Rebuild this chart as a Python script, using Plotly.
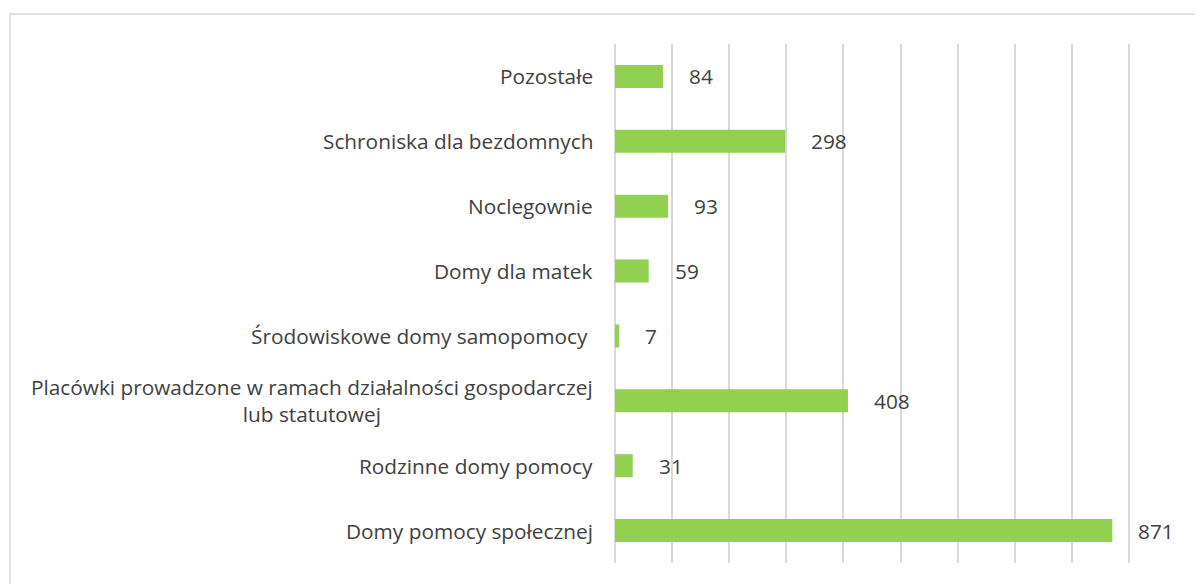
import plotly.graph_objects as go

categories = [
    "Domy pomocy społecznej",
    "Rodzinne domy pomocy",
    "Placówki prowadzone w ramach działalności gospodarczej<br>lub statutowej",
    "Środowiskowe domy samopomocy ",
    "Domy dla matek",
    "Noclegownie",
    "Schroniska dla bezdomnych",
    "Pozostałe",
]
values = [871, 31, 408, 7, 59, 93, 298, 84]
x_ticks = list(range(0, 1001, 100))

FONT = "Open Sans"
TXT = "#404040"
FS = 20.8

fig = go.Figure(go.Bar(
    x=values, y=categories, orientation="h",
    marker=dict(color="#92D050", line=dict(width=0)),
    hoverinfo="skip",
))

annotations = []
for c, v in zip(categories, values):
    annotations.append(dict(
        x=v, y=c, xref="x", yref="y", text=str(v), showarrow=False,
        xanchor="left", xshift=24, font=dict(family=FONT, size=FS, color=TXT),
    ))
    annotations.append(dict(
        x=0, y=c, xref="paper", yref="y", text=c, showarrow=False,
        xanchor="right", align="center", xshift=-20,
        font=dict(family=FONT, size=FS, color=TXT),
    ))

fig.update_layout(
    width=1203, height=584,
    margin=dict(l=607, r=25, t=36, b=29),
    paper_bgcolor="white", plot_bgcolor="white",
    bargap=0.645,
    showlegend=False,
    annotations=annotations,
    xaxis=dict(range=[0, 1000], tickvals=x_ticks, showticklabels=False,
               showgrid=True, gridcolor="#d9d9d9", gridwidth=1.6,
               zeroline=True, zerolinecolor="#d9d9d9", zerolinewidth=1.6,
               showline=False, fixedrange=True),
    yaxis=dict(showticklabels=False, showgrid=False, zeroline=False,
               showline=False, categoryorder="array", categoryarray=categories),
    shapes=[dict(type="rect", xref="paper", yref="paper",
                 x0=-1.0595, x1=1.06, y0=-0.08, y1=1.0578,
                 line=dict(color="#d9d9d9", width=1.5), layer="below")],
)

fig.write_html("out.html")
